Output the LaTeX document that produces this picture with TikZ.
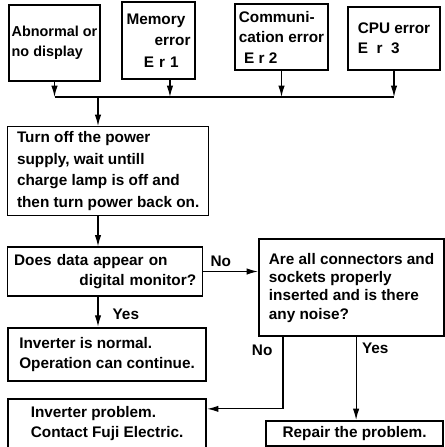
\documentclass[tikz,border=0pt]{standalone}
\usepackage{fontspec}
\setmainfont{Liberation Sans}
\usetikzlibrary{arrows.meta,positioning}
\newcommand{\pushright}{\hspace*{0pt plus 1fill}}

\begin{document}
\begin{tikzpicture}[
 x=0.75pt, y=0.75pt, >={Latex[length=8.5pt,width=4.8pt]}, line width=0.9pt,
 font=\fontsize{11.5}{15}\selectfont\bfseries,
 box/.style={draw, line width=1pt, align=left, inner sep=0pt},
 heavy/.style={box, line width=1.6pt},
 lead/.style={font=\fontsize{11.5}{#1}\selectfont\bfseries},
 lbl/.style={inner sep=0pt}]
\useasboundingbox (0,0) rectangle (445,-447);
% top row
\node[box, minimum width=68.25pt, minimum height=57pt, font=\fontsize{10.8}{15}\selectfont\bfseries] (abn) at (54.5,-43) {Abnormal or\\no display};
\node[box, lead=16pt, minimum width=54.75pt, minimum height=57.75pt, text width=48pt] (mem) at (158.5,-40.5) {Memory\\\pushright error\\\hspace*{13pt}E r 1};
\node[box, lead=15.4pt, minimum width=69.75pt, minimum height=49.5pt] (com) at (281.5,-37) {Communi-\\cation error\\\hspace*{4pt}E r 2};
\node[box, minimum width=69pt, minimum height=47.25pt] (cpu) at (394,-38.5) {CPU error\\E\ \ r\ \ 3};
% left chain
\node[box, lead=16.25pt, minimum width=150.75pt, minimum height=66.75pt, anchor=north west] (reset) at (7,-126) {Turn off the power\\supply, wait untill\\charge lamp is off and\\then turn power back on.};
\node[box, minimum width=146.25pt, minimum height=36.75pt, text width=136.5pt, below=22.5pt of reset.south west, anchor=north west] (data) {Does data appear on\\\pushright digital monitor?};
\node[heavy, minimum width=148.5pt, minimum height=39.75pt, below=22.5pt of data.south west, anchor=north west] (normal) {Inverter is normal.\\Operation can continue.};
\node[heavy, minimum width=148.5pt, minimum height=37.5pt, below=12pt of normal.south west, anchor=north west] (fault) {Inverter problem.\\Contact Fuji Electric.};
% right side
\node[heavy, lead=13.75pt, minimum width=138.75pt, minimum height=72.75pt, anchor=north west] (conn) at (258,-238) {Are all connectors and\\sockets properly\\inserted and is there\\any noise?};
\node[heavy, minimum width=132.75pt, minimum height=18.75pt, anchor=north west] (repair) at (265,-420) {Repair the problem.};

\coordinate (bus) at (0,-97);
\coordinate (spine) at (98,0);
\draw[->] (abn.south) -- (abn.south |- bus);
\draw[->] ([xshift=8.6pt]mem.south) -- ([xshift=8.6pt]mem.south |- bus);
\draw[->] (com.south) -- (com.south |- bus);
\draw[->] (cpu.south) -- (cpu.south |- bus);
\draw (abn.south |- bus) -- (cpu.south |- bus);
\draw[->] (spine |- bus) -- (spine |- reset.north);
\draw[->] (spine |- reset.south) -- (spine |- data.north);
\draw[->] (spine |- data.south) -- node[lbl, right=10.5pt, pos=0.6] (yes1) {Yes} (spine |- normal.north);
\draw[->] (data.east) -- node[lbl, above=3.5pt, pos=0.32] (no1) {No} (data.east -| conn.west);
\draw[->] ([xshift=-51.4pt]conn.south) |- node[lbl, left=7.5pt, pos=0.09] (no2) {No} ([yshift=11.25pt]fault.east);
\draw[->] ([xshift=3.4pt]conn.south) -- node[lbl, right=4pt, pos=0.14] (yes2) {Yes} ([xshift=3.4pt]conn.south |- repair.north);
\end{tikzpicture}
\end{document}
